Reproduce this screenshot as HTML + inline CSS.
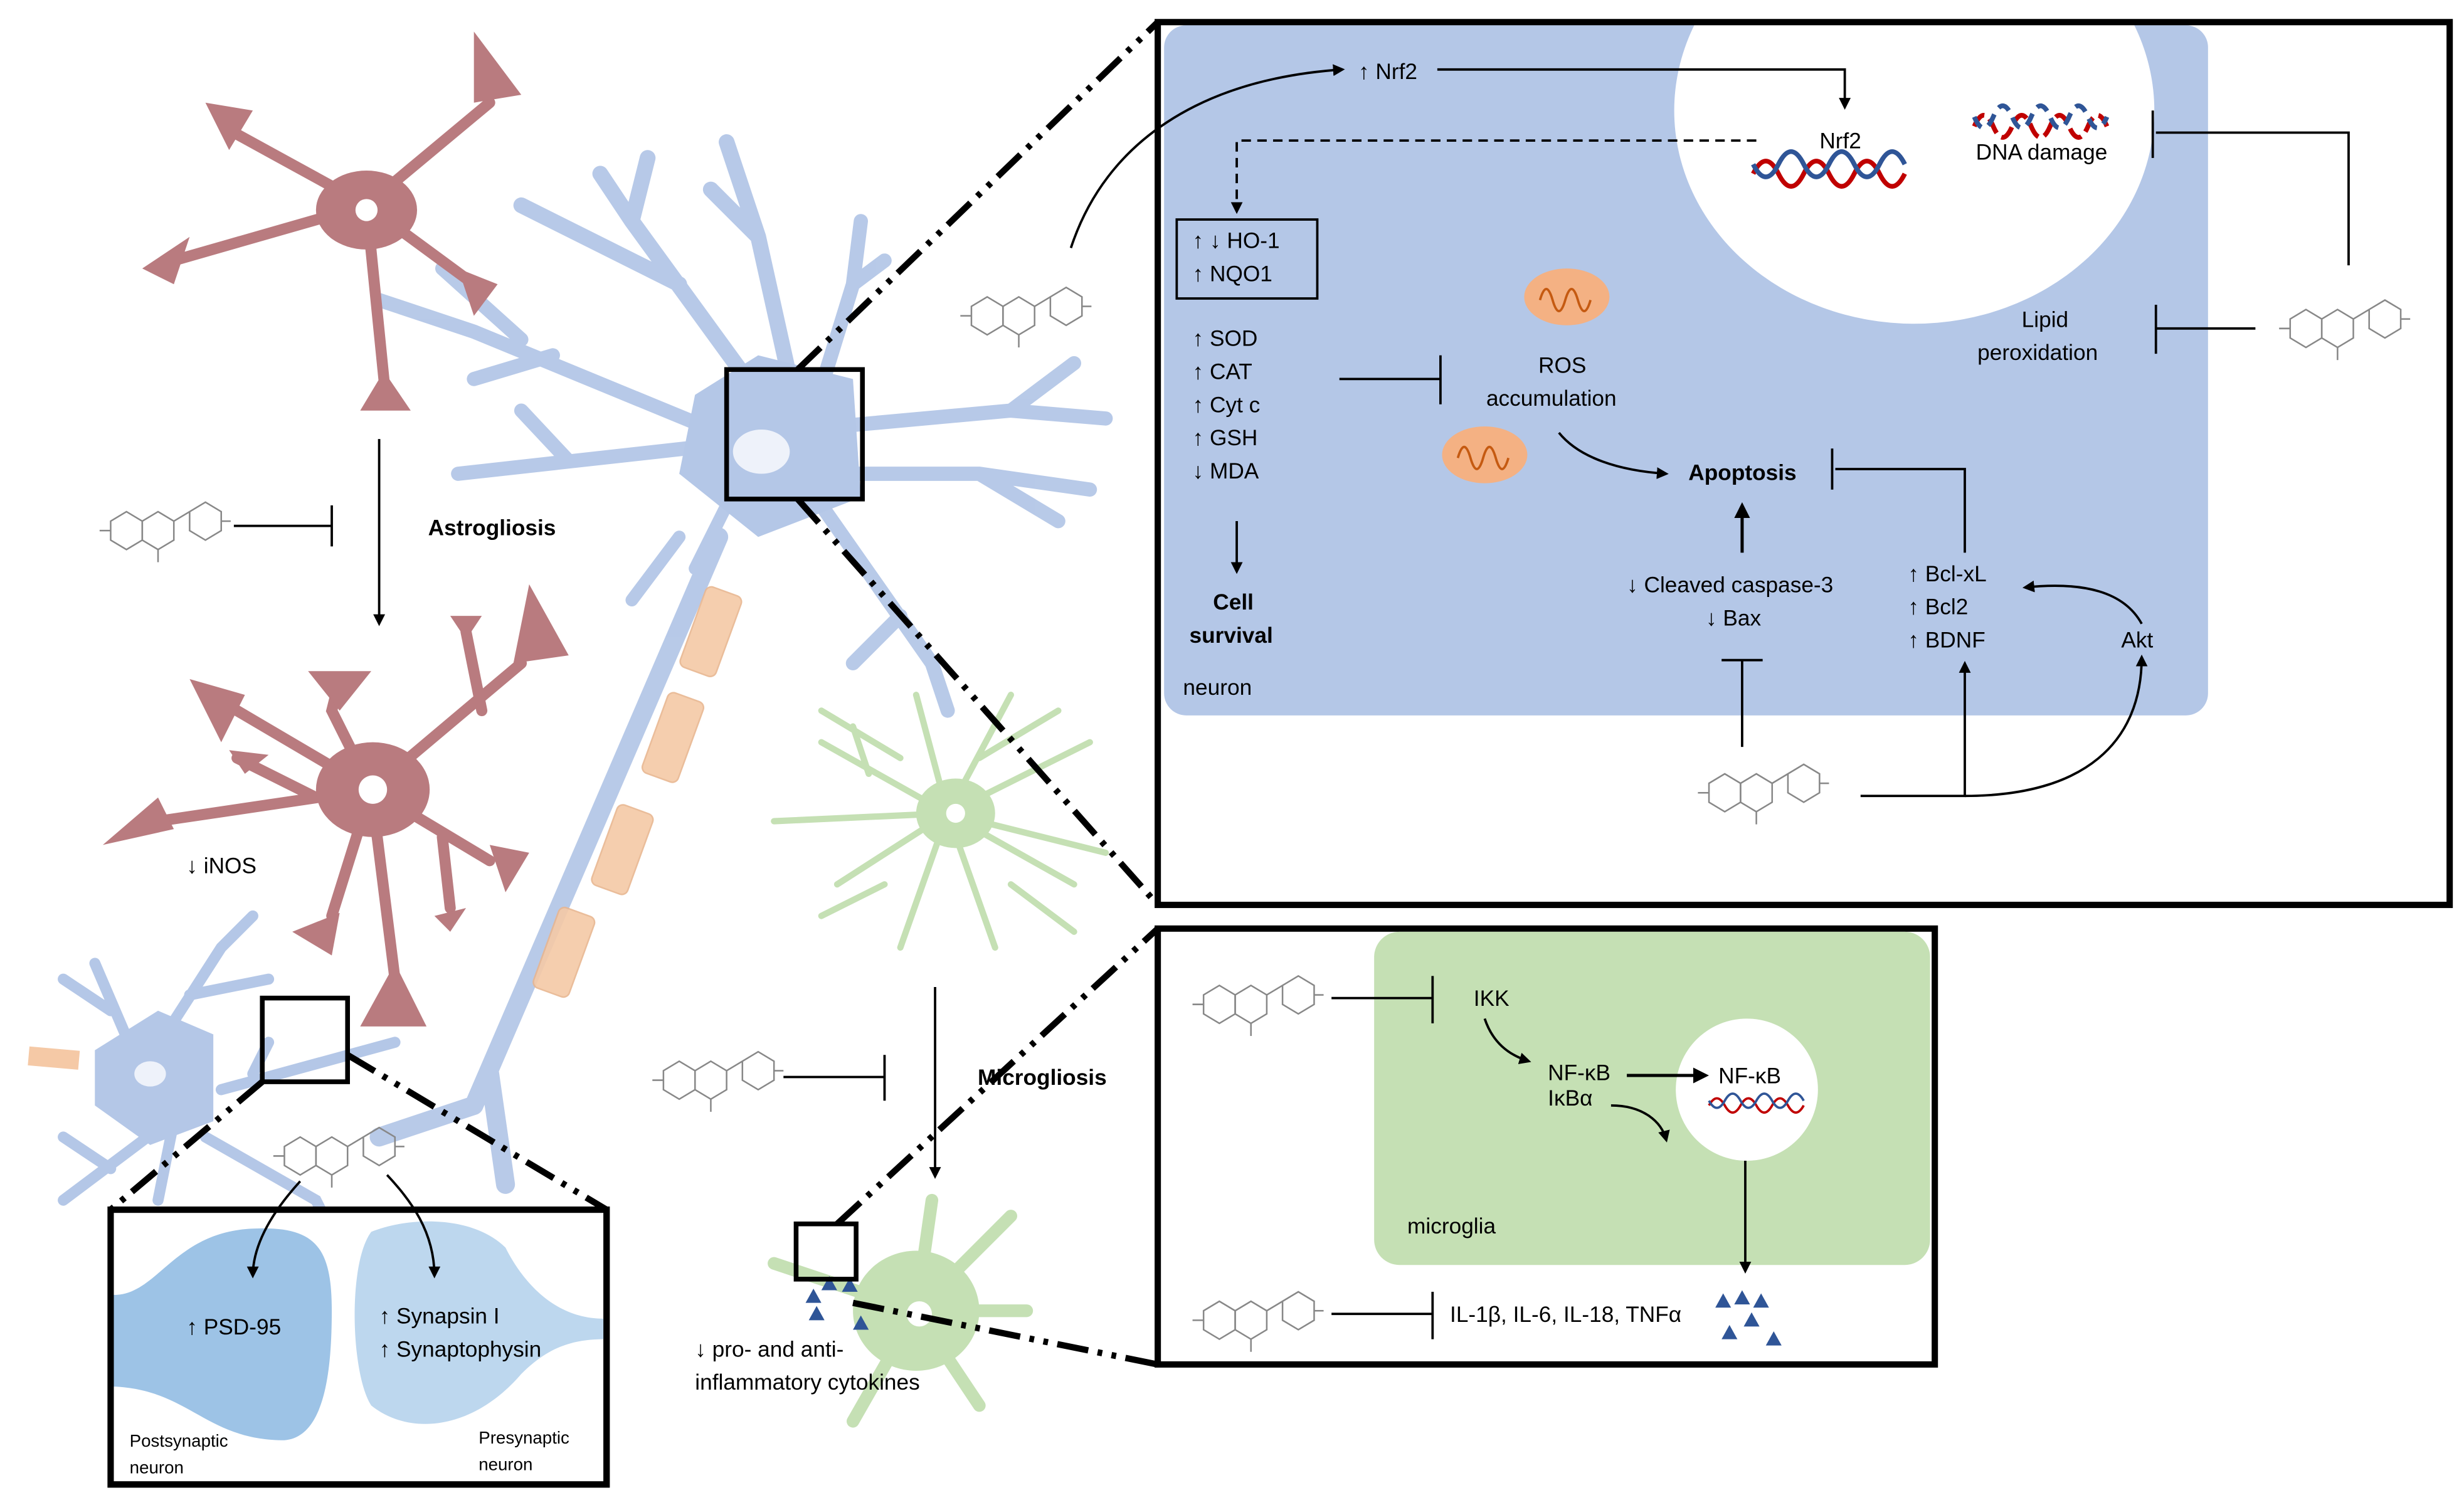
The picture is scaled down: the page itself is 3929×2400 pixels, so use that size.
<!DOCTYPE html>
<html><head><meta charset="utf-8"><style>html,body{margin:0;padding:0;background:#fff}svg{display:block}</style></head>
<body>
<svg width="3929" height="2400" viewBox="0 0 1560 953" xmlns="http://www.w3.org/2000/svg" font-family="Liberation Sans, sans-serif">
<defs>
<marker id="ar" viewBox="0 0 10 10" refX="8" refY="5" markerWidth="5" markerHeight="5" orient="auto"><path d="M0,0 L10,5 L0,10z" fill="#000"/></marker>
<g id="fl" fill="none" stroke="#888" stroke-width="1">
<path d="M10,22 l10,-6 l10,6 v12 l-10,6 l-10,-6z"/>
<path d="M30,22 l10,-6 l10,6 v12 l-10,6 l-10,-6z"/>
<path d="M50,22 l10,-6"/>
<path d="M60,16 l10,-6 l10,6 v12 l-10,6 l-10,-6z"/>
<path d="M40,40 v8"/><path d="M3,28 h7"/><path d="M80,22 h6"/>
</g>
</defs>
<rect width="1560" height="953" fill="#fff"/>

<!-- main neuron -->
<g stroke="#b4c7e7" fill="none" stroke-linecap="round" opacity="0.95">
<path d="M470,280 L300,210 M300,210 L240,190 M350,225 L300,240 M330,215 L280,170" stroke-width="9"/>
<path d="M470,280 L290,300 M360,292 L330,260" stroke-width="9"/>
<path d="M480,250 L400,140 L380,110 M430,180 L330,130 M400,140 L410,100" stroke-width="10"/>
<path d="M500,240 L480,150 L460,90 M480,150 L450,120" stroke-width="10"/>
<path d="M520,245 L540,180 L545,140 M540,180 L560,165" stroke-width="9"/>
<path d="M530,270 L640,260 L700,265 M640,260 L680,230" stroke-width="9"/>
<path d="M535,300 L620,300 L690,310 M620,300 L670,330" stroke-width="9"/>
<path d="M520,320 L590,420 L600,450 M570,390 L540,420" stroke-width="9"/>
<path d="M460,320 L440,360 M430,340 L400,380" stroke-width="8"/>
<path d="M455,340 L300,700 M300,700 L240,720 M310,680 L320,750" stroke-width="12"/>
</g>
<path d="M440,250 L480,225 L540,240 L545,315 L480,340 L430,300 Z" fill="#b4c7e7"/>
<ellipse cx="482" cy="286" rx="18" ry="14" fill="#eef2fa"/>
<g fill="#f5c9a6" stroke="#e8b690" opacity="0.9">
<rect x="-12" y="-27" width="24" height="54" rx="4" transform="translate(450,400) rotate(20)"/>
<rect x="-12" y="-27" width="24" height="54" rx="4" transform="translate(426,467) rotate(20)"/>
<rect x="-12" y="-27" width="24" height="54" rx="4" transform="translate(394,538) rotate(20)"/>
<rect x="-12" y="-27" width="24" height="54" rx="4" transform="translate(357,603) rotate(20)"/>
</g>

<!-- small neuron bottom left -->
<g stroke="#b4c7e7" fill="none" stroke-linecap="round">
<path d="M90,680 L60,610 M70,640 L40,620 M95,670 L140,600 L160,580 M120,630 L170,620 M120,700 L40,760 M70,740 L40,720 M110,710 L100,760 M140,690 L250,660 M160,680 L170,660 M130,720 L200,760 L210,780" stroke-width="7"/>
</g>
<path d="M60,665 L100,640 L135,655 L135,710 L95,725 L60,700Z" fill="#b4c7e7"/>
<ellipse cx="95" cy="680" rx="10" ry="8" fill="#eef2fa"/>
<rect x="18" y="664" width="32" height="12" fill="#f5c9a6" transform="rotate(5 34 670)"/>

<!-- astrocyte 1 -->
<g stroke="#b97b7f" fill="none" stroke-width="7" stroke-linecap="round">
<path d="M232,130 L150,85 M232,130 L310,65 M232,130 L110,165 M232,130 L300,180 M232,130 L243,240"/>
</g>
<g fill="#b97b7f">
<path d="M130,65 L160,70 L145,95Z"/><path d="M300,20 L330,60 L300,65Z"/><path d="M90,170 L120,150 L110,180Z"/><path d="M290,170 L315,180 L300,200Z"/><path d="M228,260 L243,235 L260,260Z"/>
<ellipse cx="232" cy="133" rx="32" ry="25"/>
</g>
<circle cx="232" cy="133" r="7" fill="#fff"/>

<!-- astrocyte 2 -->
<g stroke="#b97b7f" fill="none" stroke-width="7" stroke-linecap="round">
<path d="M235,500 L150,450 M235,500 L210,450 L215,430 M235,500 L330,420 M305,450 L295,400 M235,500 L100,520 M200,505 L150,480 M235,500 L310,545 M280,530 L285,575 M235,500 L250,620 M235,500 L210,580"/>
</g>
<g fill="#b97b7f">
<path d="M120,430 L155,440 L140,470Z"/><path d="M195,425 L235,425 L215,450Z"/><path d="M285,390 L305,390 L295,405Z"/><path d="M335,370 L360,415 L325,420Z"/><path d="M65,535 L100,505 L110,525Z"/><path d="M145,475 L155,490 L170,478Z"/><path d="M310,535 L335,540 L320,565Z"/><path d="M275,580 L295,575 L285,590Z"/><path d="M228,650 L250,610 L270,650Z"/><path d="M185,590 L215,578 L210,605Z"/>
<ellipse cx="236" cy="500" rx="36" ry="30"/>
</g>
<circle cx="236" cy="500" r="9" fill="#fff"/>

<!-- microglia top -->
<g stroke="#c5e0b4" fill="none" stroke-width="4" stroke-linecap="round">
<path d="M600,515 L520,470 M550,490 L540,460 M600,515 L490,520 M600,515 L530,560 M600,515 L570,600 M600,515 L630,600 M600,515 L680,560 M600,515 L700,540 M600,515 L690,470 M600,515 L640,440 M600,515 L580,440 M620,480 L670,450 M570,480 L520,450 M560,560 L520,580 M640,560 L680,590"/>
</g>
<ellipse cx="605" cy="515" rx="25" ry="22" fill="#c5e0b4"/>
<circle cx="605" cy="515" r="6" fill="#fff"/>
<!-- microglia bottom -->
<g stroke="#c5e0b4" fill="none" stroke-width="8" stroke-linecap="round">
<path d="M580,830 L590,760 M580,830 L490,800 M580,830 L640,770 M580,830 L650,830 M580,830 L620,890 M580,830 L540,900"/>
</g>
<ellipse cx="580" cy="830" rx="40" ry="38" fill="#c5e0b4"/>
<circle cx="582" cy="832" r="8" fill="#fff"/>

<!-- left flows -->
<line x1="240" y1="278" x2="240" y2="395" stroke="#000" stroke-width="1.5" marker-end="url(#ar)"/>
<line x1="148" y1="333" x2="210" y2="333" stroke="#000" stroke-width="1.5"/><line x1="210" y1="320" x2="210" y2="346" stroke="#000" stroke-width="1.5"/>
<use href="#fl" x="60" y="308"/>
<text x="271" y="339" font-size="14" font-weight="bold">Astrogliosis</text>
<text x="118" y="553" font-size="14">↓ iNOS</text>

<line x1="592" y1="625" x2="592" y2="745" stroke="#000" stroke-width="1.5" marker-end="url(#ar)"/>
<line x1="496" y1="682" x2="560" y2="682" stroke="#000" stroke-width="1.5"/><line x1="560" y1="668" x2="560" y2="697" stroke="#000" stroke-width="1.5"/>
<use href="#fl" x="410" y="656"/>
<text x="619" y="687" font-size="14" font-weight="bold">Microgliosis</text>
<text x="440" y="859" font-size="14">↓ pro- and anti-</text>
<text x="440" y="880" font-size="14">inflammatory cytokines</text>
<g fill="#2f5597"><path d="M510,825 l5,-9 l5,9z M520,817 l5,-9 l5,9z M533,818 l5,-9 l5,9z M512,836 l5,-9 l5,9z M540,842 l5,-9 l5,9z"/></g>
<rect x="504" y="775" width="38" height="35" fill="none" stroke="#000" stroke-width="3"/>

<!-- zoom squares & dash-dot -->
<rect x="460" y="234" width="86" height="82" fill="none" stroke="#000" stroke-width="3"/>
<rect x="166" y="632" width="54" height="53" fill="none" stroke="#000" stroke-width="3"/>
<g stroke="#000" stroke-width="4" stroke-dasharray="20 6 3 6 3 6" fill="none">
<path d="M505,234 L733,14"/><path d="M505,316 L733,573"/>
<path d="M530,775 L733,588"/><path d="M540,825 L733,864"/>
<path d="M166,685 L70,766"/><path d="M220,668 L384,766"/>
</g>

<!-- synapse box -->
<rect x="70" y="766" width="314" height="174" fill="#fff" stroke="#000" stroke-width="4"/>
<path d="M72,820 C100,820 110,780 160,778 C200,776 210,790 210,830 C210,870 205,910 180,912 C130,912 120,880 72,878Z" fill="#9dc3e6"/>
<path d="M382,835 C350,835 330,810 320,790 C300,770 260,770 235,780 C220,800 222,870 235,890 C260,910 300,905 330,870 C345,855 360,848 382,848Z" fill="#bdd7ee"/>
<rect x="70" y="766" width="314" height="174" fill="none" stroke="#000" stroke-width="4"/>
<text x="118" y="845" font-size="14">↑ PSD-95</text>
<text x="240" y="838" font-size="14">↑ Synapsin I</text>
<text x="240" y="859" font-size="14">↑ Synaptophysin</text>
<text x="82" y="916" font-size="11">Postsynaptic</text><text x="82" y="933" font-size="11">neuron</text>
<text x="303" y="914" font-size="11">Presynaptic</text><text x="303" y="931" font-size="11">neuron</text>
<use href="#fl" x="170" y="704"/>
<path d="M190,748 C170,770 160,790 160,808" stroke="#000" stroke-width="1.5" fill="none" marker-end="url(#ar)"/>
<path d="M245,744 C260,760 275,780 275,808" stroke="#000" stroke-width="1.5" fill="none" marker-end="url(#ar)"/>

<!-- big neuron box -->
<rect x="733" y="14" width="818" height="559" fill="#fff"/>
<rect x="737" y="16" width="661" height="437" rx="14" fill="#b4c7e7"/>
<ellipse cx="1212" cy="70" rx="152" ry="135" fill="#fff"/>
<rect x="733" y="14" width="818" height="559" fill="none" stroke="#000" stroke-width="4"/>
<text x="860" y="50" font-size="14">↑ Nrf2</text>
<path d="M678,157 C700,90 760,50 850,44" stroke="#000" stroke-width="1.5" fill="none" marker-end="url(#ar)"/>
<path d="M910,44 L1168,44 L1168,68" stroke="#000" stroke-width="1.5" fill="none" marker-end="url(#ar)"/>
<path d="M1112,89 L783,89 L783,134" stroke="#000" stroke-width="1.5" stroke-dasharray="6 4" fill="none" marker-end="url(#ar)"/>
<text x="1152" y="94" font-size="14">Nrf2</text>
<path d="M1110,110 q8,-16 16,0 t16,0 t16,0 t16,0 t16,0 t16,0" stroke="#c00000" stroke-width="3" fill="none"/>
<path d="M1110,104 q8,16 16,0 t16,0 t16,0 t16,0 t16,0 t16,0" stroke="#2f5597" stroke-width="3" fill="none"/>
<path d="M1250,80 q6,-14 12,0 t12,0 t12,0 t12,0 t12,0 t12,0 t12,0" stroke="#c00000" stroke-width="3" fill="none" stroke-dasharray="10 4"/>
<path d="M1250,74 q6,14 12,0 t12,0 t12,0 t12,0 t12,0 t12,0 t12,0" stroke="#2f5597" stroke-width="3" fill="none" stroke-dasharray="8 5"/>
<text x="1251" y="101" font-size="14">DNA damage</text>
<path d="M1487,168 L1487,84 L1365,84" stroke="#000" stroke-width="1.5" fill="none"/><line x1="1363" y1="70" x2="1363" y2="100" stroke="#000" stroke-width="1.5"/>
<text x="1280" y="207" font-size="14">Lipid</text><text x="1252" y="228" font-size="14">peroxidation</text>
<line x1="1428" y1="208" x2="1365" y2="208" stroke="#000" stroke-width="1.5"/><line x1="1365" y1="193" x2="1365" y2="224" stroke="#000" stroke-width="1.5"/>
<use href="#fl" x="1440" y="180"/>
<use href="#fl" x="605" y="172"/>
<rect x="745" y="139" width="89" height="50" fill="none" stroke="#000" stroke-width="1.5"/>
<text x="755" y="157" font-size="14">↑ ↓ HO-1</text><text x="755" y="178" font-size="14">↑ NQO1</text>
<text x="755" y="219" font-size="14">↑ SOD</text><text x="755" y="240" font-size="14">↑ CAT</text><text x="755" y="261" font-size="14">↑ Cyt c</text><text x="755" y="282" font-size="14">↑ GSH</text><text x="755" y="303" font-size="14">↓ MDA</text>
<line x1="783" y1="330" x2="783" y2="362" stroke="#000" stroke-width="1.5" marker-end="url(#ar)"/>
<text x="768" y="386" font-size="14" font-weight="bold">Cell</text><text x="753" y="407" font-size="14" font-weight="bold">survival</text>
<text x="749" y="440" font-size="14">neuron</text>
<line x1="848" y1="240" x2="912" y2="240" stroke="#000" stroke-width="1.5"/><line x1="912" y1="225" x2="912" y2="256" stroke="#000" stroke-width="1.5"/>
<ellipse cx="992" cy="188" rx="27" ry="18" fill="#f4b183"/>
<path d="M975,190 q4,-14 8,0 t8,0 t8,0 t8,0" stroke="#c55a11" stroke-width="1.5" fill="none"/>
<ellipse cx="940" cy="288" rx="27" ry="18" fill="#f4b183"/>
<path d="M923,290 q4,-14 8,0 t8,0 t8,0 t8,0" stroke="#c55a11" stroke-width="1.5" fill="none"/>
<text x="974" y="236" font-size="14">ROS</text><text x="941" y="257" font-size="14">accumulation</text>
<path d="M987,274 C1000,290 1025,298 1055,300" stroke="#000" stroke-width="1.5" fill="none" marker-end="url(#ar)"/>
<text x="1069" y="304" font-size="14" font-weight="bold">Apoptosis</text>
<line x1="1103" y1="350" x2="1103" y2="320" stroke="#000" stroke-width="2" marker-end="url(#ar)"/>
<text x="1030" y="375" font-size="14">↓ Cleaved caspase-3</text><text x="1080" y="396" font-size="14">↓ Bax</text>
<path d="M1244,350 L1244,297 L1162,297" stroke="#000" stroke-width="1.5" fill="none"/><line x1="1160" y1="284" x2="1160" y2="310" stroke="#000" stroke-width="1.5"/>
<text x="1208" y="368" font-size="14">↑ Bcl-xL</text><text x="1208" y="389" font-size="14">↑ Bcl2</text><text x="1208" y="410" font-size="14">↑ BDNF</text>
<text x="1343" y="410" font-size="14">Akt</text>
<path d="M1356,395 C1345,375 1320,368 1282,372" stroke="#000" stroke-width="1.5" fill="none" marker-end="url(#ar)"/>
<line x1="1103" y1="473" x2="1103" y2="418" stroke="#000" stroke-width="1.5"/><line x1="1090" y1="418" x2="1116" y2="418" stroke="#000" stroke-width="1.5"/>
<use href="#fl" x="1072" y="474"/>
<path d="M1178,504 L1244,504 L1244,420" stroke="#000" stroke-width="1.5" fill="none" marker-end="url(#ar)"/>
<path d="M1244,504 C1320,504 1356,470 1356,416" stroke="#000" stroke-width="1.5" fill="none" marker-end="url(#ar)"/>

<!-- microglia box -->
<rect x="733" y="588" width="492" height="276" fill="#fff" stroke="#000" stroke-width="4"/>
<rect x="870" y="590" width="352" height="211" rx="16" fill="#c5e0b4"/>
<circle cx="1106" cy="690" r="45" fill="#fff"/>
<use href="#fl" x="752" y="608"/>
<line x1="843" y1="632" x2="907" y2="632" stroke="#000" stroke-width="1.5"/><line x1="907" y1="618" x2="907" y2="648" stroke="#000" stroke-width="1.5"/>
<text x="933" y="637" font-size="14">IKK</text>
<path d="M940,645 C945,660 955,668 968,672" stroke="#000" stroke-width="1.5" fill="none" marker-end="url(#ar)"/>
<text x="980" y="684" font-size="14">NF-κB</text><text x="980" y="700" font-size="14">IκBα</text>
<line x1="1030" y1="681" x2="1080" y2="681" stroke="#000" stroke-width="2" marker-end="url(#ar)"/>
<path d="M1020,700 C1040,700 1052,710 1055,722" stroke="#000" stroke-width="1.5" fill="none" marker-end="url(#ar)"/>
<text x="1088" y="686" font-size="14">NF-κB</text>
<path d="M1082,700 q5,-9 10,0 t10,0 t10,0 t10,0 t10,0 t10,0" stroke="#c00000" stroke-width="1.5" fill="none"/>
<path d="M1082,697 q5,9 10,0 t10,0 t10,0 t10,0 t10,0 t10,0" stroke="#2f5597" stroke-width="1.5" fill="none"/>
<line x1="1105" y1="735" x2="1105" y2="805" stroke="#000" stroke-width="1.5" marker-end="url(#ar)"/>
<text x="891" y="781" font-size="14">microglia</text>
<use href="#fl" x="752" y="808"/>
<line x1="843" y1="832" x2="907" y2="832" stroke="#000" stroke-width="1.5"/><line x1="907" y1="818" x2="907" y2="848" stroke="#000" stroke-width="1.5"/>
<text x="918" y="837" font-size="14">IL-1β, IL-6, IL-18, TNFα</text>
<g fill="#2f5597"><path d="M1086,828 l5,-9 l5,9z M1098,826 l5,-9 l5,9z M1110,828 l5,-9 l5,9z M1090,848 l5,-9 l5,9z M1104,840 l5,-9 l5,9z M1118,852 l5,-9 l5,9z"/></g>
</svg>
</body></html>
